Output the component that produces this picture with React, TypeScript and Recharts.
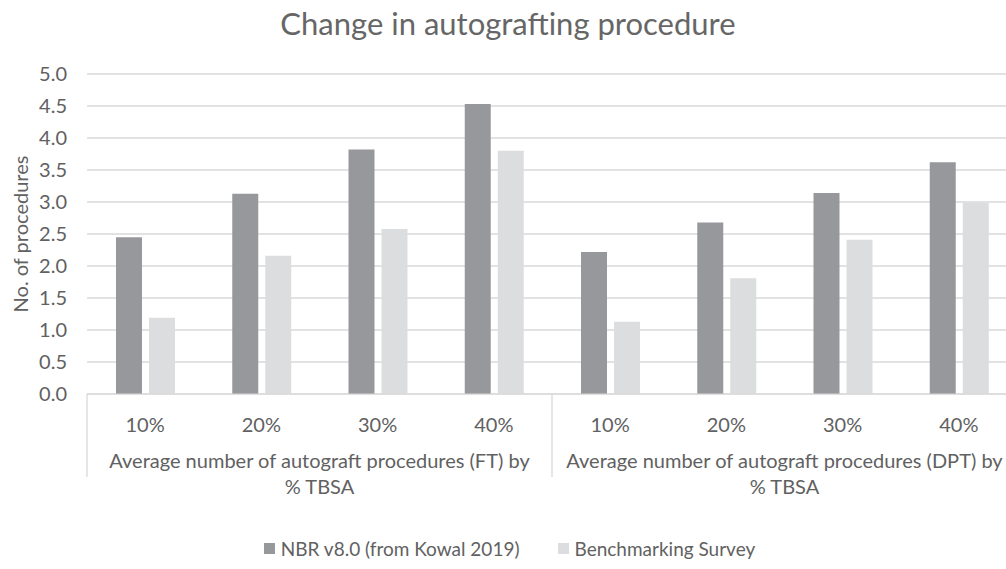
import React from 'react';
import { BarChart, Bar, XAxis, YAxis, CartesianGrid, Legend } from 'recharts';

const titleText = 'Change in autografting procedure';
const yAxisTitle = 'No. of procedures';
const categories = ['10%', '20%', '30%', '40%', '10%', '20%', '30%', '40%'];
const groupIndexOfCategory = [0, 0, 0, 0, 1, 1, 1, 1];
const groupLines = [
  ['Average number of autograft procedures (FT) by', '% TBSA'],
  ['Average number of autograft procedures (DPT) by', '% TBSA'],
];
const groupKeys = groupLines.map((l) => l.join(' '));
const nbrValues = [2.45, 3.13, 3.82, 4.53, 2.22, 2.68, 3.14, 3.62];
const benchValues = [1.19, 2.16, 2.58, 3.8, 1.13, 1.81, 2.41, 2.99];
const seriesNames = ['NBR v8.0 (from Kowal 2019)', 'Benchmarking Survey'];
const seriesColors = ['#97989C', '#DCDDDF'];
const yTicks = [0, 0.5, 1, 1.5, 2, 2.5, 3, 3.5, 4, 4.5, 5];

const data = categories.map((c, i) => ({
  cat: c,
  group: groupKeys[groupIndexOfCategory[i]],
  nbr: nbrValues[i],
  bench: benchValues[i],
}));

const FONT = 'Lato, "Open Sans", sans-serif';
const TEXT = '#616161';
const GRID = '#D9D9D9';
const FS = 20;

const AXIS1_H = 40;

const GroupTick = (props: any) => {
  const { x, y, payload } = props;
  const idx = groupKeys.indexOf(payload.value);
  const lines = groupLines[idx] || [String(payload.value)];
  const half = payload.offset ?? 0;
  const top = y - AXIS1_H;
  return (
    <g>
      <line x1={x - half} x2={x - half} y1={top} y2={y + 43} stroke={GRID} strokeWidth={1.3} />
      {idx === groupKeys.length - 1 && (
        <line x1={x + half} x2={x + half} y1={top} y2={y + 43} stroke={GRID} strokeWidth={1.3} />
      )}
      <text x={x} y={y + 34} textAnchor="middle" fill={TEXT} fontSize={FS} fontFamily={FONT}>
        {lines.map((ln, i) => (
          <tspan key={i} x={x} dy={i === 0 ? 0 : 26}>
            {ln}
          </tspan>
        ))}
      </text>
    </g>
  );
};

const YLabel = (props: any) => {
  const vb = props.viewBox || {};
  const cx = vb.x + 20;
  const cy = vb.y + vb.height / 2;
  return (
    <text
      x={cx}
      y={cy}
      transform={`rotate(-90, ${cx}, ${cy})`}
      textAnchor="middle"
      dominantBaseline="central"
      fill={TEXT}
      fontSize={FS}
      fontFamily={FONT}
    >
      {yAxisTitle}
    </text>
  );
};

const LegendContent = () => (
  <div
    style={{
      height: 30,
      display: 'flex',
      justifyContent: 'center',
      alignItems: 'center',
      paddingLeft: 2,
      fontFamily: FONT,
      fontSize: 19,
      color: TEXT,
    }}
  >
    {seriesNames.map((name, i) => (
      <span key={i} style={{ display: 'flex', alignItems: 'center', marginLeft: i === 0 ? 0 : 38 }}>
        <span style={{ display: 'inline-block', width: 11, height: 11, background: seriesColors[i], marginRight: 6 }} />
        {name}
      </span>
    ))}
  </div>
);

export default function App() {
  return (
    <div
      style={{
        position: 'absolute',
        left: 0,
        top: 0,
        width: 1006,
        height: 569,
        overflow: 'hidden',
        background: '#fff',
        fontFamily: FONT,
      }}
    >
      <BarChart
        width={1040}
        height={569}
        data={data}
        margin={{ top: 74, right: 23, bottom: 6, left: 0 }}
        barGap={7}
      >
        <CartesianGrid vertical={false} stroke={GRID} strokeWidth={1.3} />
        <YAxis
          domain={[0, 5]}
          ticks={yTicks}
          width={87}
          axisLine={false}
          tickLine={false}
          tickMargin={14}
          tickFormatter={(v: number) => v.toFixed(1)}
          tick={{ fill: TEXT, fontSize: FS, fontFamily: FONT }}
          label={YLabel}
        />
        <XAxis
          dataKey="cat"
          height={AXIS1_H}
          stroke={GRID}
          tickLine={false}
          tickMargin={18}
          interval={0}
          tick={{ fill: TEXT, fontSize: FS, fontFamily: FONT }}
        />
        <XAxis
          xAxisId="grp"
          dataKey="group"
          allowDuplicatedCategory={false}
          height={99}
          axisLine={false}
          tickLine={false}
          tickSize={0}
          tickMargin={0}
          interval={0}
          tick={<GroupTick />}
        />
        <Legend verticalAlign="bottom" content={<LegendContent />} />
        <Bar dataKey="nbr" name={seriesNames[0]} fill={seriesColors[0]} barSize={26} isAnimationActive={false} />
        <Bar dataKey="bench" name={seriesNames[1]} fill={seriesColors[1]} barSize={26} isAnimationActive={false} />
      </BarChart>
      <div
        style={{
          position: 'absolute',
          top: 8,
          left: 0,
          width: 1016,
          textAlign: 'center',
          fontSize: 31,
          lineHeight: '31px',
          color: '#666',
          fontFamily: FONT,
        }}
      >
        {titleText}
      </div>
    </div>
  );
}
